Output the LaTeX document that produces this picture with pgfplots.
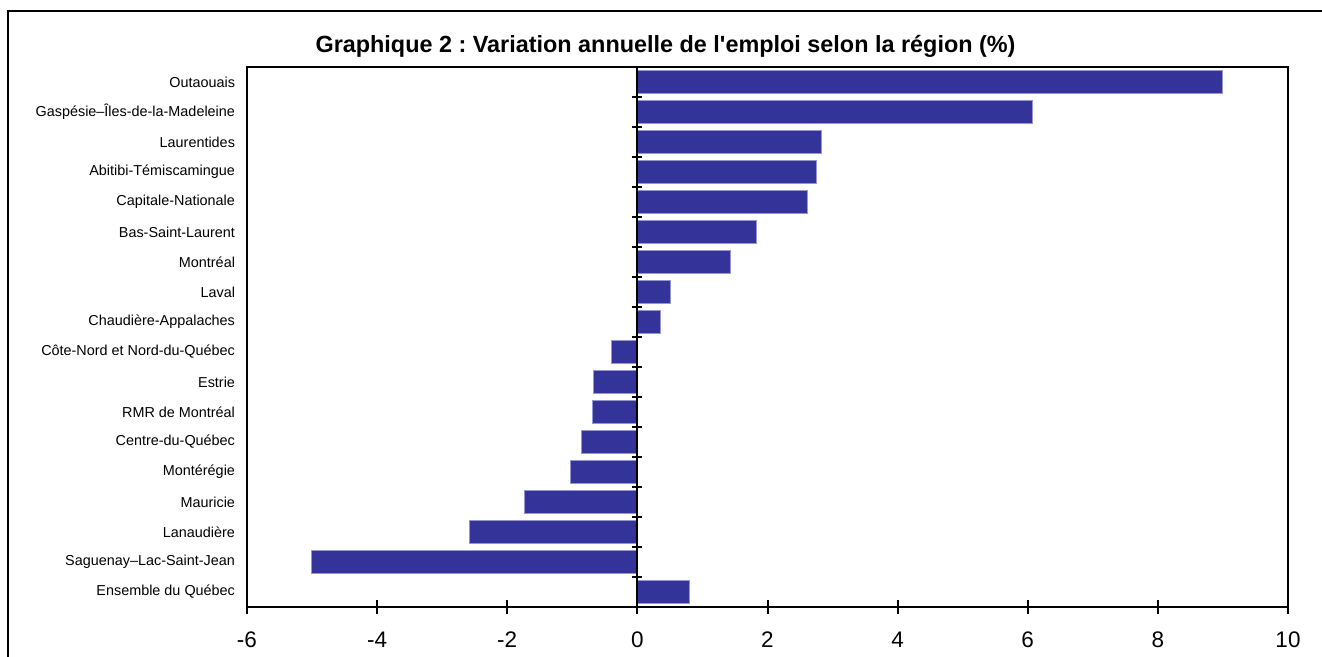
\documentclass[border=0pt]{standalone}
\usepackage{pgfplots}
\pgfplotsset{compat=1.18}
\usepackage{fontspec}
\setmainfont{Liberation Sans}
\frenchspacing
\definecolor{barblue}{RGB}{51,51,153}
\definecolor{baredge}{RGB}{150,150,210}
\begin{document}
\begin{tikzpicture}[x=1pt,y=1pt]
\useasboundingbox (0,0) rectangle (1322,656);
\begin{scope}
\clip (0,0) rectangle (1322,656);
\draw[line width=2.5pt] (8,-20) -- (8,645) -- (1340,645);
\end{scope}
\node[font=\bfseries\fontsize{23.4}{26}\selectfont, anchor=base] at (665.5,603) {Graphique 2 : Variation annuelle de l\textquotesingle emploi selon la région (\%)};
\begin{axis}[
  at={(247pt,49pt)}, anchor=south west,
  width=1041pt, height=540pt, scale only axis,
  xmin=-6, xmax=10, ymin=0.5, ymax=18.5, y dir=reverse,
  xbar, bar width=0.75,
  ytick={1,...,18},
  yticklabels={Outaouais,Gaspésie–Îles-de-la-Madeleine,Laurentides,Abitibi-Témiscamingue,Capitale-Nationale,Bas-Saint-Laurent,Montréal,Laval,Chaudière-Appalaches,Côte-Nord et Nord-du-Québec,Estrie,RMR de Montréal,Centre-du-Québec,Montérégie,Mauricie,Lanaudière,Saguenay–Lac-Saint-Jean,Ensemble du Québec},
  yticklabel style={font=\fontsize{14.4}{16}\selectfont, xshift=-1.5pt},
  ytick style={draw=none},
  xtick={-6,-4,-2,0,2,4,6,8,10},
  xticklabels={-6,-4,-2,0,2,4,6,8,10},
  xticklabel style={font=\fontsize{22.5}{25}\selectfont, yshift=-14pt},
  x tick style={line width=2pt, black},
  tick align=center, major tick length=14pt,
  xtick pos=bottom,
  axis line style={line width=2pt},
  axis x line*=bottom,
  clip=false,
]
\addplot[fill=barblue, draw=baredge, line width=0.6pt] coordinates {
(8.99,1) (6.07,2) (2.83,3) (2.75,4) (2.61,5) (1.83,6) (1.43,7) (0.51,8) (0.35,9)
(-0.40,10) (-0.68,11) (-0.69,12) (-0.86,13) (-1.03,14) (-1.74,15) (-2.58,16) (-5.01,17) (0.80,18)
};
\end{axis}
\begin{axis}[
  at={(247pt,49pt)}, anchor=south west,
  width=1041pt, height=540pt, scale only axis,
  xmin=-6, xmax=10, ymin=0.5, ymax=18.5, y dir=reverse,
  axis x line=none, axis y line=center,
  axis line style={-, line width=2pt},
  ytick={0.5,1.5,...,18.5}, yticklabels={},
  y tick style={line width=2pt, black},
  tick align=center, major tick length=10pt,
]
\end{axis}
\begin{axis}[
  at={(247pt,49pt)}, anchor=south west,
  width=1041pt, height=540pt, scale only axis,
  xmin=-6, xmax=10, ymin=0.5, ymax=18.5,
  ticks=none,
  axis line style={line width=2pt},
]
\end{axis}
\end{tikzpicture}
\end{document}
